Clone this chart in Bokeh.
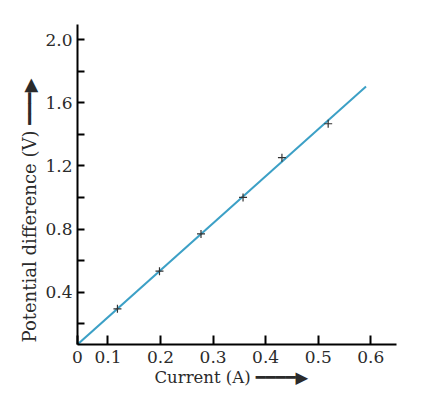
from bokeh.plotting import figure
from bokeh.models import Range1d, FixedTicker, CustomJSTickFormatter, Title
from bokeh.embed import file_html
from bokeh.resources import INLINE

# ---- data ----
current = [0.118, 0.198, 0.277, 0.357, 0.431, 0.519]
voltage = [0.296, 0.534, 0.770, 1.001, 1.252, 1.467]
fit_current = [0.042, 0.591]
fit_voltage = [0.070, 1.703]
x_ticks = [0.042, 0.1, 0.2, 0.3, 0.4, 0.5, 0.6]
y_major = [0.4, 0.8, 1.2, 1.6, 2.0]
y_minor = [0.2, 0.6, 1.0, 1.4, 1.8]
x_title = "Current (A) ━━━━▶"
y_title = "Potential difference (V) ━━━▶"

FONT = "DejaVu Serif"
TXT = "#2b2b2b"

p = figure(width=415, height=398, frame_width=319, frame_height=320,
           x_range=Range1d(0.042, 0.649), y_range=Range1d(0.070, 2.095),
           output_backend="svg", toolbar_location=None,
           min_border_left=77, min_border_right=19, min_border_top=24,
           min_border_bottom=54)
p.outline_line_color = None
p.xgrid.visible = False
p.ygrid.visible = False
p.background_fill_color = "white"
p.border_fill_color = "white"

for ax in (p.xaxis[0], p.yaxis[0]):
    ax.axis_line_width = 2
    ax.axis_line_color = "black"
    ax.major_tick_line_color = "black"
    ax.major_tick_line_width = 2
    ax.minor_tick_line_color = "black"
    ax.minor_tick_line_width = 2
    ax.major_tick_out = 0
    ax.minor_tick_out = 0
    ax.major_label_text_font = FONT
    ax.major_label_text_font_size = "17px"
    ax.major_label_text_color = TXT

p.xaxis.ticker = FixedTicker(ticks=x_ticks, minor_ticks=[])
p.xaxis.formatter = CustomJSTickFormatter(code="return tick < 0.05 ? '0' : tick.toFixed(1);")
p.xaxis.major_tick_in = 9
p.xaxis.major_label_standoff = 6

p.yaxis.ticker = FixedTicker(ticks=y_major, minor_ticks=y_minor)
p.yaxis.formatter = CustomJSTickFormatter(code="return tick.toFixed(1);")
p.yaxis.major_tick_in = 7
p.yaxis.minor_tick_in = 7
p.yaxis.major_label_standoff = 5

p.line(fit_current, fit_voltage, line_color="#3ca0c6", line_width=2)
p.scatter(current, voltage, marker="cross", size=8, line_color="#333333",
          line_width=1.2)

p.add_layout(Title(text=x_title, align="left", offset=77, standoff=1,
                   text_font=FONT, text_font_size="16.5px",
                   text_font_style="normal", text_color=TXT), "below")
p.add_layout(Title(text=y_title, align="left", offset=2, standoff=6,
                   text_font=FONT, text_font_size="18px",
                   text_font_style="normal", text_color=TXT), "left")

open("out.html", "w").write(file_html(p, INLINE))
